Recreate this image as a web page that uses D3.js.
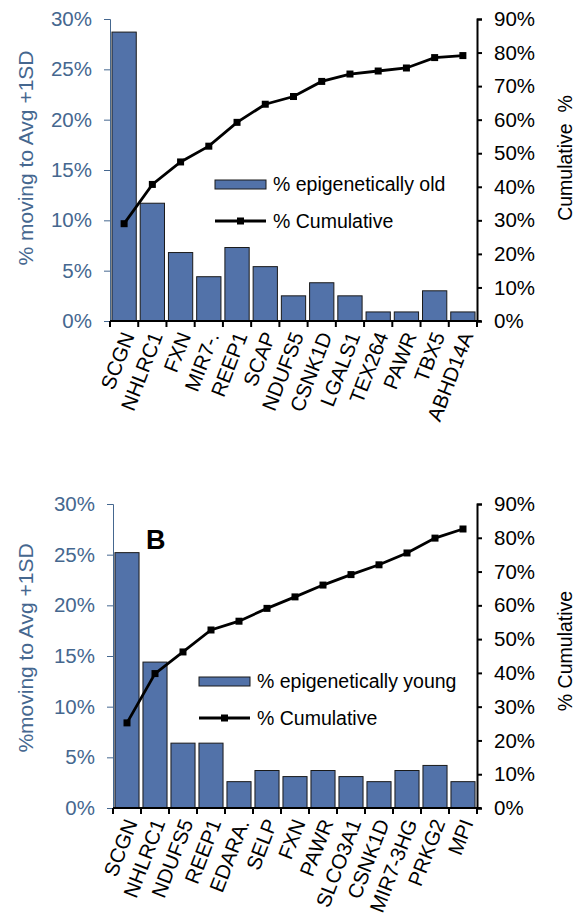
<!DOCTYPE html>
<html>
<head>
<meta charset="utf-8">
<script src="https://cdn.jsdelivr.net/npm/d3@7"></script>
<style>
  body { margin: 0; background: #fff; }
  svg { display: block; font-family: "Liberation Sans", Arial, sans-serif; }
</style>
</head>
<body>
<div id="chart-container"></div>
<script>
// Panel A: epigenetically old
const genesA = ["SCGN", "NHLRC1", "FXN", "MIR7-.", "REEP1", "SCAP", "NDUFS5", "CSNK1D", "LGALS1", "TEX264", "PAWR", "TBX5", "ABHD14A"];
const pctA = [28.7, 11.7, 6.8, 4.4, 7.3, 5.4, 2.5, 3.8, 2.5, 0.9, 0.9, 3.0, 0.9];
const cumA = [29.0, 40.7, 47.4, 52.1, 59.2, 64.6, 66.9, 71.4, 73.6, 74.5, 75.4, 78.5, 79.1];

// Panel B: epigenetically young
const genesB = ["SCGN", "NHLRC1", "NDUFS5", "REEP1", "EDARA.", "SELP", "FXN", "PAWR", "SLCO3A1", "CSNK1D", "MIR7-3HG", "PRKG2", "MPI"];
const pctB = [25.2, 14.4, 6.4, 6.4, 2.6, 3.7, 3.1, 3.7, 3.1, 2.6, 3.7, 4.2, 2.6];
const cumB = [25.2, 39.8, 46.2, 52.7, 55.3, 59.1, 62.5, 66.0, 69.1, 72.0, 75.5, 79.9, 82.6];

const leftTicks = [0, 5, 10, 15, 20, 25, 30];
const rightTicks = [0, 10, 20, 30, 40, 50, 60, 70, 80, 90];

const width = 577, height = 914;
const blue = "#45678f";
const barFill = "#5272a9";

const svg = d3.select("#chart-container")
  .append("svg")
  .attr("width", width)
  .attr("height", height);

function drawPanel(cfg) {
  const g = svg.append("g");
  const x = d3.scaleBand()
    .domain(cfg.genes)
    .range([cfg.left, cfg.right])
    .paddingInner(0.14)
    .paddingOuter(0.07);
  const yL = d3.scaleLinear().domain([0, 30]).range([cfg.bottom, cfg.top]);
  const yR = d3.scaleLinear().domain([0, 90]).range([cfg.bottom, cfg.top]);

  // bars
  g.selectAll(".bar")
    .data(cfg.genes)
    .enter()
    .append("rect")
    .attr("x", (d) => x(d))
    .attr("y", (d, i) => yL(cfg.pct[i]))
    .attr("width", x.bandwidth())
    .attr("height", (d, i) => yL(0) - yL(cfg.pct[i]))
    .attr("fill", barFill)
    .attr("stroke", "#1a1a1a")
    .attr("stroke-width", 1);

  // left axis
  const axL = g.append("g")
    .attr("transform", `translate(${cfg.left},0)`)
    .call(d3.axisLeft(yL).tickValues(leftTicks).tickSize(6).tickPadding(12).tickFormat((d) => d + "%"));
  axL.select(".domain").attr("stroke", blue);
  axL.selectAll(".tick line").attr("stroke", blue);
  axL.selectAll("text").attr("fill", blue).style("font-size", "20.5px");

  // right axis
  const axR = g.append("g")
    .attr("transform", `translate(${cfg.right},0)`)
    .call(d3.axisRight(yR).tickValues(rightTicks).tickSize(5).tickPadding(12).tickFormat((d) => d + "%"));
  axR.select(".domain").attr("stroke", "#000").attr("stroke-width", 2);
  axR.selectAll(".tick line").attr("stroke", "#000").attr("stroke-width", 2);
  axR.selectAll("text").attr("fill", "#000").style("font-size", "20.5px");

  // x axis baseline with ticks at category boundaries
  const step = x.step();
  const bounds = cfg.genes.map((d) => x(d) - step * 0.07).concat([cfg.right]);
  g.append("line")
    .attr("x1", cfg.left).attr("x2", cfg.right + 4)
    .attr("y1", yL(0)).attr("y2", yL(0))
    .attr("stroke", "#000").attr("stroke-width", 2);
  g.selectAll(".xtick")
    .data(bounds)
    .enter()
    .append("line")
    .attr("x1", (d) => d).attr("x2", (d) => d)
    .attr("y1", yL(0)).attr("y2", yL(0) + 6)
    .attr("stroke", "#000").attr("stroke-width", 2);

  // x labels
  g.selectAll(".xlab")
    .data(cfg.genes)
    .enter()
    .append("text")
    .attr("transform", (d) => `translate(${x(d) + x.bandwidth() / 2 + 4},${yL(0) + 12}) rotate(-69)`)
    .attr("text-anchor", "end")
    .attr("dy", "0.35em")
    .style("font-size", "20.5px")
    .attr("fill", "#000")
    .text((d) => d);

  // cumulative line
  const cx = (d) => x(d) + x.bandwidth() / 2;
  const line = d3.line()
    .x((d) => cx(d))
    .y((d, i) => yR(cfg.cum[i]));
  g.append("path")
    .datum(cfg.genes)
    .attr("d", line)
    .attr("fill", "none")
    .attr("stroke", "#000")
    .attr("stroke-width", 2.8);
  g.selectAll(".mk")
    .data(cfg.genes)
    .enter()
    .append("rect")
    .attr("x", (d) => cx(d) - 3.5)
    .attr("y", (d, i) => yR(cfg.cum[i]) - 3.5)
    .attr("width", 7)
    .attr("height", 7)
    .attr("fill", "#000");

  // axis titles
  g.append("text")
    .attr("transform", `translate(${cfg.titleLX},${cfg.titleLY}) rotate(-90)`)
    .attr("text-anchor", "middle")
    .attr("fill", blue)
    .style("font-size", "21px")
    .text(cfg.titleL);
  g.append("text")
    .attr("transform", `translate(${cfg.titleRX},${cfg.titleRY}) rotate(-90)`)
    .attr("text-anchor", "middle")
    .attr("fill", "#000")
    .style("font-size", "19.5px")
    .style("white-space", "pre")
    .text(cfg.titleR);

  // legend
  const lg = g.append("g").attr("transform", `translate(${cfg.legX},${cfg.legY})`);
  lg.append("rect")
    .attr("x", 0).attr("y", 0).attr("width", 51).attr("height", 9)
    .attr("fill", barFill).attr("stroke", "#1a1a1a").attr("stroke-width", 1);
  lg.append("text")
    .attr("x", 58).attr("y", 11)
    .style("font-size", "19.5px")
    .text(cfg.legBar);
  lg.append("line")
    .attr("x1", 0).attr("x2", 51).attr("y1", 41).attr("y2", 41)
    .attr("stroke", "#000").attr("stroke-width", 2.8);
  lg.append("rect")
    .attr("x", 22).attr("y", 37.5).attr("width", 7).attr("height", 7).attr("fill", "#000");
  lg.append("text")
    .attr("x", 58).attr("y", 48)
    .style("font-size", "19.5px")
    .text("% Cumulative");

  if (cfg.letter) {
    g.append("text")
      .attr("x", cfg.letterX).attr("y", cfg.letterY)
      .style("font-size", "27px")
      .style("font-weight", "bold")
      .text(cfg.letter);
  }
}

drawPanel({
  genes: genesA, pct: pctA, cum: cumA,
  left: 110, right: 477, top: 19, bottom: 321,
  titleL: "% moving to Avg +1SD", titleLX: 33, titleLY: 158,
  titleR: "Cumulative  %", titleRX: 572, titleRY: 158,
  legX: 215, legY: 180, legBar: "% epigenetically old"
});

drawPanel({
  genes: genesB, pct: pctB, cum: cumB,
  left: 113, right: 477, top: 504, bottom: 808,
  titleL: "%moving to Avg +1SD", titleLX: 33, titleLY: 648,
  titleR: "% Cumulative", titleRX: 572, titleRY: 651,
  legX: 199, legY: 677, legBar: "% epigenetically young",
  letter: "B", letterX: 146, letterY: 549
});
</script>
</body>
</html>
